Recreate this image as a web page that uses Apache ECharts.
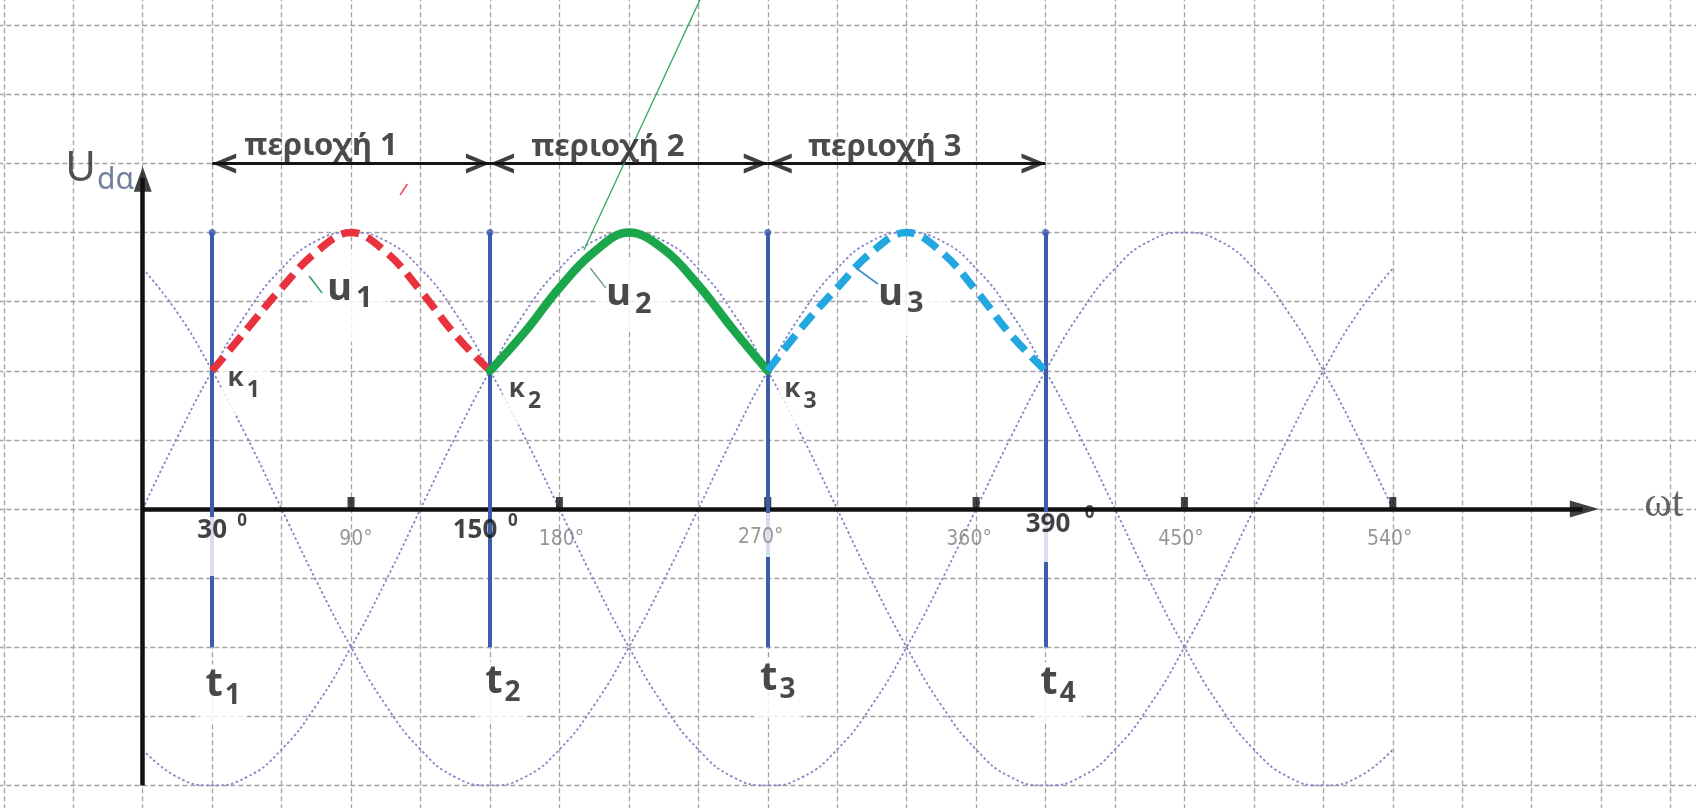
<!DOCTYPE html>
<html lang="el">
<head>
<meta charset="utf-8">
<title>Τάση εξόδου τριφασικής ανόρθωσης</title>
<script src="https://cdn.jsdelivr.net/npm/echarts@6/dist/echarts.min.js"></script>
<style>
  html, body { margin: 0; padding: 0; background: #ffffff; }
  #chart { width: 1696px; height: 808px; }
</style>
</head>
<body>
<div id="chart"></div>
<script>
// ---------- data ----------
// phase angle ωt in degrees, sampled every 15°
const angles = [0, 15, 30, 45, 60, 75, 90, 105, 120, 135, 150, 165, 180, 195, 210, 225, 240, 255, 270,
  285, 300, 315, 330, 345, 360, 375, 390, 405, 420, 435, 450, 465, 480, 495, 510, 525, 540];
// the three phase voltages (per unit)
const phaseU1 = [0, 0.26, 0.5, 0.71, 0.87, 0.97, 1, 0.97, 0.87, 0.71, 0.5, 0.26, 0, -0.26, -0.5, -0.71, -0.87, -0.97, -1,
  -0.97, -0.87, -0.71, -0.5, -0.26, 0, 0.26, 0.5, 0.71, 0.87, 0.97, 1, 0.97, 0.87, 0.71, 0.5, 0.26, 0];
const phaseU2 = [-0.87, -0.97, -1, -0.97, -0.87, -0.71, -0.5, -0.26, 0, 0.26, 0.5, 0.71, 0.87, 0.97, 1, 0.97, 0.87, 0.71, 0.5,
  0.26, 0, -0.26, -0.5, -0.71, -0.87, -0.97, -1, -0.97, -0.87, -0.71, -0.5, -0.26, 0, 0.26, 0.5, 0.71, 0.87];
const phaseU3 = [0.87, 0.71, 0.5, 0.26, 0, -0.26, -0.5, -0.71, -0.87, -0.97, -1, -0.97, -0.87, -0.71, -0.5, -0.26, 0, 0.26, 0.5,
  0.71, 0.87, 0.97, 1, 0.97, 0.87, 0.71, 0.5, 0.26, 0, -0.26, -0.5, -0.71, -0.87, -0.97, -1, -0.97, -0.87];

// output voltage u_dα traced over each conduction interval
const span1Angles = [30, 45, 60, 75, 90, 105, 120, 135, 150];
const span1Values = [0.5, 0.65, 0.8, 0.93, 1.0, 0.93, 0.79, 0.63, 0.5];
const span2Angles = [150, 165, 180, 195, 210, 225, 240, 255, 270];
const span2Values = [0.5, 0.64, 0.8, 0.93, 1.0, 0.94, 0.81, 0.65, 0.5];
const span3Angles = [270, 285, 300, 315, 330, 345, 360, 375, 390];
const span3Values = [0.5, 0.66, 0.8, 0.93, 1.0, 0.93, 0.79, 0.63, 0.5];

// commutation instants t1..t4 and the natural crossing points κ1..κ3
const switchAngles = [30, 150, 270, 390];
const switchTop = 1.0;
const switchBottom = -0.5;
const crossingLevel = 0.5;
const switchNames = ['1', '2', '3', '4'];
const switchAngleText = ['30', '150', '', '390'];
const crossingNames = ['1', '2', '3'];
const phaseNames = ['1', '2', '3'];
const regionNames = ['περιοχή 1', 'περιοχή 2', 'περιοχή 3'];
const regionLevel = 1.25;

// axis ticks
const tickAngles = [90, 180, 270, 360, 450, 540];
const tickLabels = ['90°', '180°', '270°', '360°', '450°', '540°'];
const axisEnd = 629;
const axisTop = 1.238;
const axisBottom = -1;

// ---------- styling helpers ----------
const sans = '"Noto Sans", "Open Sans", "DejaVu Sans", sans-serif';
const narrow = '"Liberation Sans Narrow", "Arial Narrow", "DejaVu Sans Condensed", "Liberation Sans", sans-serif';
const serif = '"Liberation Serif", "DejaVu Serif", serif';
const ink = '#1c1c1c';
const zip = (xs, ys) => xs.map((x, i) => [x, ys[i]]);

// label made of a main part and a lowered (shift > 0) or raised (shift < 0) second part
function twoPart(first, second, o) {
  const s = Math.abs(o.shift);
  const low = o.shift > 0;
  const gap = o.gap == null ? 2 : o.gap;
  const base = { fontFamily: o.family || sans, fontWeight: o.weight || 'bold', color: o.color || ink };
  return {
    show: true,
    position: 'inside',
    formatter: '{a|' + first + '}{b|' + second + '}',
    offset: o.offset || [0, 0],
    backgroundColor: o.bg || 'transparent',
    padding: o.pad || 0,
    rich: {
      a: Object.assign({}, base, { fontSize: o.size1, padding: low ? [0, 0, s, 0] : [s, 0, 0, 0] }),
      b: Object.assign({}, base, {
        fontSize: o.size2, color: o.color2 || base.color,
        padding: low ? [s, 0, 0, gap] : [0, 0, s, gap]
      })
    }
  };
}

function plain(text, o) {
  return Object.assign({
    show: true, position: 'inside', formatter: text,
    fontFamily: sans, fontWeight: 'bold', color: ink
  }, o);
}

// text on a white patch; the patch may reach further above or below the text
function patched(text, o) {
  return {
    show: true, position: 'inside', offset: o.offset,
    formatter: '{a|' + text + '}',
    rich: {
      a: {
        fontFamily: o.family || sans, fontWeight: o.weight || 'bold', fontSize: o.size,
        color: o.color || ink, backgroundColor: '#ffffff', padding: o.pad
      }
    }
  };
}

// ---------- annotation items ----------
const underLabels = [];   // white-boxed labels kept under the traced curves
const overLabels = [];    // labels drawn above guide lines

// κ labels at the crossing points
const crossOffsets = [[32.5, 17], [36, 28], [33.7, 28]];
crossingNames.forEach((n, i) => {
  underLabels.push({
    value: [switchAngles[i], crossingLevel],
    label: twoPart('κ', n, { size1: 26, size2: 23, shift: 12, gap: 3, offset: crossOffsets[i], bg: '#ffffff', pad: [4, 8, 10, 6] })
  });
});

// t labels under each commutation line
const switchOffsets = [[11, 47], [13, 44], [10, 41], [12.5, 45]];
switchNames.forEach((n, i) => {
  underLabels.push({
    value: [switchAngles[i], switchBottom],
    label: twoPart('t', n, { size1: 40, size2: 28, shift: 12, gap: 2, offset: switchOffsets[i], bg: '#ffffff', pad: [0, 6, 8, 6] })
  });
});

// u labels beside each traced phase
const phasePlaces = [[89.1, 0.771, [20, 14, 24, 16]], [212.0, 0.773, [16, 19, 8, 10]], [331.2, 0.762, [14, 27, 13, 10]]];
phaseNames.forEach((n, i) => {
  underLabels.push({
    value: [phasePlaces[i][0], phasePlaces[i][1]],
    label: twoPart('u', n, { size1: 38, size2: 29, shift: 10, gap: 4, bg: '#ffffff', pad: phasePlaces[i][2] })
  });
});

// angle labels on the ωt axis
const tickDx = [5, 2, -7, -7, -3.5, -3];
tickAngles.forEach((a, i) => {
  const onSwitch = switchAngles.indexOf(a) >= 0;
  const style = { family: narrow, weight: 'normal', size: 21, color: '#7d7d7d' };
  overLabels.push({
    value: [a, 0],
    label: onSwitch
      ? patched(tickLabels[i], Object.assign(style, { offset: [tickDx[i], 26], pad: [14.5, 4, 8.5, 4] }))
      : plain(tickLabels[i], {
          fontFamily: narrow, fontWeight: 'normal', fontSize: 21, color: '#7d7d7d', offset: [tickDx[i], 31]
        })
  });
});

// bold commutation angles with their degree mark
const angleTextStyle = [
  { offset: [0, 37.5], sup: [30, 12], pad: [1, 4, 32, 4] },
  { offset: [-15, 22], sup: [23, 12] },
  null,
  { offset: [2.5, 28], sup: [44, 4], pad: [0, 4, 24, 4] }
];
switchAngleText.forEach((t, i) => {
  if (!t) return;
  const st = angleTextStyle[i];
  overLabels.push({
    value: [switchAngles[i], 0],
    label: st.pad
      ? patched(t, { size: 26, color: '#111111', offset: st.offset, pad: st.pad })
      : plain(t, { fontSize: 26, color: '#111111', offset: st.offset })
  });
  overLabels.push({
    value: [switchAngles[i], 0],
    label: plain('0', { fontSize: 17, color: '#111111', offset: st.sup })
  });
});

// region titles over the double arrows
const regionOffsets = [[-30, -17.5], [-21, -16.5], [-22, -16.5]];
regionNames.forEach((n, i) => {
  overLabels.push({
    value: [(switchAngles[i] + switchAngles[i + 1]) / 2, regionLevel],
    label: plain(n, { fontSize: 31, color: '#1e1e1e', offset: regionOffsets[i] })
  });
});

// axis titles
overLabels.push({
  value: [0, axisTop],
  label: twoPart('U', 'dα', { size1: 42, size2: 30, shift: 12, gap: 1, weight: 'normal', color: '#262626', color2: '#4f5f82', offset: [-43, 8] })
});
overLabels.push({
  value: [axisEnd, 0],
  label: plain('ωt', { fontFamily: serif, fontWeight: 'normal', fontSize: 42, color: '#3c3c3c', offset: [65, -4] })
});

// arrow heads
const chevronRight = 'path://M0,0 L22,9 L0,18 L0,14 L13,9 L0,4 Z';
const chevronLeft = 'path://M22,0 L0,9 L22,18 L22,14 L9,9 L22,4 Z';
const headUp = 'path://M9,0 L18,25 L0,25 Z';
const headRight = 'path://M0,0 L29,8.5 L0,17 Z';
const heads = [];
for (let i = 0; i < switchAngles.length - 1; i++) {
  heads.push({ value: [switchAngles[i], regionLevel], symbol: chevronLeft, symbolSize: [24, 20], symbolOffset: [12, 0] });
  heads.push({ value: [switchAngles[i + 1], regionLevel], symbol: chevronRight, symbolSize: [24, 20], symbolOffset: [-12, 0] });
}
heads.push({ value: [0, axisTop], symbol: headUp, symbolSize: [18, 25], symbolOffset: [0, 12.5] });
heads.push({ value: [axisEnd, 0], symbol: headRight, symbolSize: [29, 17], symbolOffset: [-14.5, 0] });

// hand-drawn pointer strokes
const strokes = [
  { coords: [[240.7, 1.842], [190.6, 0.937]], lineStyle: { color: '#35a862', width: 1.3 } },
  { coords: [[71.9, 0.843], [77.5, 0.781]], lineStyle: { color: '#2f9e5e', width: 1.6 } },
  { coords: [[193.3, 0.872], [200.0, 0.80]], lineStyle: { color: '#6a9a9a', width: 1.4 } },
  { coords: [[308.1, 0.872], [317.6, 0.814]], lineStyle: { color: '#3d8fd0', width: 1.6 } },
  { coords: [[111.2, 1.136], [114.3, 1.176]], lineStyle: { color: '#e8505a', width: 1.6 } }
];

// ---------- chart ----------
const paper = { show: true, lineStyle: { color: '#a2a2a2', width: 1.3, type: [5, 3] } };
const hidden = { show: false };
const phaseLine = { color: '#8686c6', width: 1.8, type: [2.5, 2.5] };
const flat = { type: 'lines', coordinateSystem: 'cartesian2d', silent: true };

const option = {
  animation: false,
  backgroundColor: '#ffffff',
  grid: { left: -65.65, right: -44.05, top: -43.8, bottom: -46.5, containLabel: false, outerBoundsMode: 'none' },
  xAxis: { type: 'value', min: -90, max: 690, interval: 30, axisLine: hidden, axisTick: hidden, axisLabel: hidden, splitLine: paper },
  yAxis: { type: 'value', min: -1.25, max: 2, interval: 0.25, axisLine: hidden, axisTick: hidden, axisLabel: hidden, splitLine: paper },
  series: [
    { type: 'line', data: zip(angles, phaseU1), smooth: true, symbol: 'none', lineStyle: phaseLine, z: 2, silent: true },
    { type: 'line', data: zip(angles, phaseU2), smooth: true, symbol: 'none', lineStyle: phaseLine, z: 2, silent: true },
    { type: 'line', data: zip(angles, phaseU3), smooth: true, symbol: 'none', lineStyle: phaseLine, z: 2, silent: true },

    // ωt and u_dα axes
    Object.assign({}, flat, {
      z: 3, lineStyle: { color: '#111111', width: 4.5, opacity: 1 },
      data: [{ coords: [[0, 0], [axisEnd - 7, 0]] }, { coords: [[0, axisBottom], [0, axisTop - 0.04]] }]
    }),
    { type: 'scatter', data: tickAngles.map(a => [a, 0]), symbol: 'rect', symbolSize: [7, 12], symbolOffset: [0, -6], itemStyle: { color: '#111111' }, z: 3.6, silent: true },

    // labels with white boxes beneath the traces
    { type: 'scatter', data: underLabels, symbolSize: 0, itemStyle: { color: 'transparent' }, z: 3.5, silent: true },

    // commutation lines
    Object.assign({}, flat, {
      z: 4, lineStyle: { color: '#3c5dae', width: 4, opacity: 1 },
      data: switchAngles.map(a => ({ coords: [[a, switchTop], [a, switchBottom]] }))
    }),
    { type: 'scatter', data: switchAngles.map(a => [a, switchTop]), symbol: 'circle', symbolSize: 7, itemStyle: { color: '#3c5dae' }, z: 4, silent: true },

    // region double arrows
    Object.assign({}, flat, {
      z: 5, lineStyle: { color: '#151515', width: 3, opacity: 1 },
      data: switchAngles.slice(0, -1).map((a, i) => ({ coords: [[a, regionLevel], [switchAngles[i + 1], regionLevel]] }))
    }),
    { type: 'scatter', data: heads, itemStyle: { color: '#111111' }, z: 5, silent: true },

    // traced output voltage
    { type: 'line', data: zip(span1Angles, span1Values), smooth: 0.4, symbol: 'none', z: 6, silent: true,
      lineStyle: { color: '#e8333f', width: 7.5, type: [18, 9] } },
    { type: 'line', data: zip(span2Angles, span2Values), smooth: 0.4, symbol: 'none', z: 6, silent: true,
      lineStyle: { color: '#1ba64c', width: 8.5, cap: 'round' } },
    { type: 'line', data: zip(span3Angles, span3Values), smooth: 0.4, symbol: 'none', z: 6, silent: true,
      lineStyle: { color: '#23a7e0', width: 7.5, type: [18, 9] } },

    Object.assign({}, flat, { z: 7, lineStyle: { opacity: 1 }, data: strokes }),

    { type: 'scatter', data: overLabels, symbolSize: 0, itemStyle: { color: 'transparent' }, z: 8, silent: true }
  ]
};

const chart = echarts.init(document.getElementById('chart'), null, { renderer: 'canvas' });
chart.setOption(option);
</script>
</body>
</html>
